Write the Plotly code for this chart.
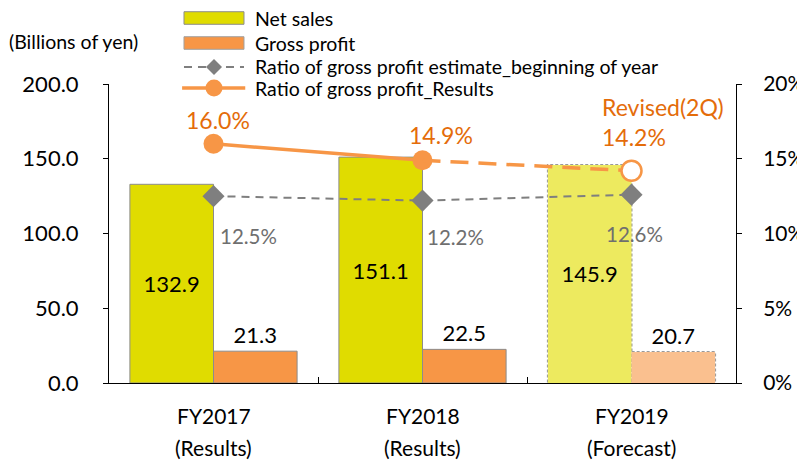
import plotly.graph_objects as go

year_labels = ["FY2017", "FY2018", "FY2019"]
kind_labels = ["(Results)", "(Results)", "(Forecast)"]
categories = [f"{y}<br>{k}" for y, k in zip(year_labels, kind_labels)]
net_sales = [132.9, 151.1, 145.9]
gross_profit = [21.3, 22.5, 20.7]
ratio_estimate = [0.125, 0.122, 0.126]
ratio_results = [0.160, 0.149, 0.142]
ratio_results_labels = ["16.0%", "14.9%", "14.2%"]
ratio_estimate_labels = ["12.5%", "12.2%", "12.6%"]
forecast_index = 2

FONT = "Lato, 'Open Sans', sans-serif"
NS_COL = "#E0DC00"
NS_COL_F = "#EDEA5F"
GP_COL = "#F79646"
GP_COL_F = "#FAC08F"
ORANGE_TXT = "#E46C0A"
GRAY = "#7F7F7F"
GRAY_TXT = "#6F6F6F"
BARGAP = 0.2
BAR_W = (1 - BARGAP) / 2

fig = go.Figure()

ns_colors = [NS_COL_F if i == forecast_index else NS_COL for i in range(len(categories))]
gp_colors = [GP_COL_F if i == forecast_index else GP_COL for i in range(len(categories))]
line_cols = ["rgba(0,0,0,0)" if i == forecast_index else "#8C8C8C" for i in range(len(categories))]

fig.add_trace(go.Bar(
    x=categories, y=net_sales, name="Net sales",
    marker=dict(color=ns_colors, line=dict(color=line_cols, width=1)),
    text=[f"{v:.1f}" for v in net_sales], textposition="inside",
    insidetextanchor="middle", textfont=dict(size=22, color="black", family=FONT),
    constraintext="none",
))
fig.add_trace(go.Bar(
    x=categories, y=gross_profit, name="Gross profit",
    marker=dict(color=gp_colors, line=dict(color=line_cols, width=1)),
    text=[f"{v:.1f}" for v in gross_profit], textposition="outside",
    textfont=dict(size=22, color="black", family=FONT),
    constraintext="none", cliponaxis=False,
))

# dashed outlines for forecast bars (drawn below the traces so markers cover them)
for j, vals in enumerate([net_sales, gross_profit]):
    x0 = forecast_index - BAR_W + j * BAR_W
    fig.add_shape(type="rect", xref="x", yref="y", layer="below",
                  x0=x0, x1=x0 + BAR_W, y0=0, y1=vals[forecast_index],
                  line=dict(color="#9A9A9A", width=2, dash="3px,2px"))

fig.add_trace(go.Scatter(
    x=categories, y=ratio_estimate, yaxis="y2", mode="lines+markers",
    name="Ratio of gross profit estimate_beginning of year",
    line=dict(color=GRAY, width=2, dash="8px,6px"),
    marker=dict(symbol="diamond", size=17, color=GRAY),
))
fig.add_trace(go.Scatter(
    x=categories[:2], y=ratio_results[:2], yaxis="y2", mode="lines+markers",
    name="Ratio of gross profit_Results",
    line=dict(color=GP_COL, width=3.5),
    marker=dict(symbol="circle", size=20, color=GP_COL),
))
fig.add_trace(go.Scatter(
    x=categories[1:], y=ratio_results[1:], yaxis="y2", mode="lines",
    line=dict(color=GP_COL, width=3.5, dash="18px,10px"), showlegend=False,
))
fig.add_trace(go.Scatter(
    x=[categories[forecast_index]], y=[ratio_results[forecast_index]], yaxis="y2",
    mode="markers", showlegend=False,
    marker=dict(symbol="circle", size=20, color="white", line=dict(color=GP_COL, width=2.5)),
))

# Results ratio labels
res_shift = [(4, 24, "center"), (18, 25, "center"), (-32, 34, "left")]
for i, (xs, ys, anc) in enumerate(res_shift):
    fig.add_annotation(x=categories[i], y=ratio_results[i], yref="y2", text=ratio_results_labels[i],
                       showarrow=False, xshift=xs, yshift=ys, xanchor=anc,
                       font=dict(size=23, color=ORANGE_TXT, family=FONT))
fig.add_annotation(x=categories[forecast_index], y=ratio_results[forecast_index], yref="y2",
                   text="Revised(2Q)", showarrow=False, xshift=-32, yshift=64, xanchor="left",
                   font=dict(size=23, color=ORANGE_TXT, family=FONT))

est_shift = [(4, -40), (2, -36), (-28, -39)]
for i, (xs, ys) in enumerate(est_shift):
    fig.add_annotation(x=categories[i], y=ratio_estimate[i], yref="y2", text=ratio_estimate_labels[i],
                       showarrow=False, xshift=xs, yshift=ys, xanchor="left",
                       font=dict(size=20.5, color=GRAY_TXT, family=FONT))

# category labels (two lines, wider line spacing than tick labels allow)
for c, yl, kl in zip(categories, year_labels, kind_labels):
    fig.add_annotation(x=c, y=0, yref="y", text=yl, showarrow=False, yshift=-32,
                       yanchor="middle", font=dict(size=21, color="black", family=FONT))
    fig.add_annotation(x=c, y=0, yref="y", text=kl, showarrow=False, yshift=-64,
                       yanchor="middle", font=dict(size=21, color="black", family=FONT))

# unit label
fig.add_annotation(xref="paper", yref="paper", x=-0.163, y=1.1405, xanchor="left", yanchor="middle",
                   text="(Billions of yen)", showarrow=False, font=dict(size=19.5, color="black", family=FONT))

# manual legend
lx0, lx1, ltx = 0.1196, 0.2153, 0.2297
rows = [1.2207, 1.1371, 1.0569, 0.9866]
names = ["Net sales", "Gross profit", "Ratio of gross profit estimate_beginning of year",
         "Ratio of gross profit_Results"]
hh = 0.021
fig.add_shape(type="rect", xref="paper", yref="paper", x0=lx0, x1=lx1, y0=rows[0] - hh, y1=rows[0] + hh,
              fillcolor=NS_COL, line=dict(color="#8C8C8C", width=1))
fig.add_shape(type="rect", xref="paper", yref="paper", x0=lx0, x1=lx1, y0=rows[1] - hh, y1=rows[1] + hh,
              fillcolor=GP_COL, line=dict(color="#A0A0A0", width=1))
fig.add_shape(type="line", xref="paper", yref="paper", x0=lx0, x1=lx1, y0=rows[2], y1=rows[2],
              line=dict(color=GRAY, width=2, dash="8px,6px"))
fig.add_shape(type="line", xref="paper", yref="paper", x0=lx0 - 0.003, x1=lx1 + 0.002, y0=rows[3], y1=rows[3],
              line=dict(color=GP_COL, width=3.5))
xm = (lx0 + lx1) / 2
fig.add_shape(type="path", xref="paper", yref="paper", xsizemode="pixel", ysizemode="pixel",
              xanchor=xm, yanchor=rows[2], path="M -8 0 L 0 8 L 8 0 L 0 -8 Z",
              fillcolor=GRAY, line=dict(color=GRAY, width=0))
fig.add_shape(type="circle", xref="paper", yref="paper", xsizemode="pixel", ysizemode="pixel",
              xanchor=xm, yanchor=rows[3], x0=-8.5, x1=8.5, y0=-8.5, y1=8.5,
              fillcolor=GP_COL, line=dict(color=GP_COL, width=0))
for r, n in zip(rows, names):
    fig.add_annotation(xref="paper", yref="paper", x=ltx, y=r, xanchor="left", yanchor="middle",
                       text=n, showarrow=False, font=dict(size=19.5, color="black", family=FONT))

fig.update_layout(
    width=797, height=455,
    margin=dict(l=101, r=69, t=76, b=80),
    paper_bgcolor="white", plot_bgcolor="white",
    barmode="group", bargap=BARGAP, bargroupgap=0,
    showlegend=False,
    font=dict(family=FONT, color="black"),
    xaxis=dict(showline=True, linecolor="black", linewidth=1, ticks="inside", tickson="boundaries",
               ticklen=6, tickcolor="black", showticklabels=False, showgrid=False,
               automargin=False),
    yaxis=dict(range=[0, 200], dtick=50, tickformat=".1f", showline=True, linecolor="black",
               ticks="outside", ticklen=5, tickcolor="black", showgrid=False, zeroline=False,
               tickfont=dict(size=22), ticklabelstandoff=20, automargin=False),
    yaxis2=dict(range=[0, 0.2], dtick=0.05, tickformat=".0%", overlaying="y", side="right",
                showline=True, linecolor="black", ticks="outside", ticklen=5, tickcolor="black",
                showgrid=False, zeroline=False, tickfont=dict(size=21), ticklabelstandoff=17,
                automargin=False),
)

fig.write_html("out.html")
